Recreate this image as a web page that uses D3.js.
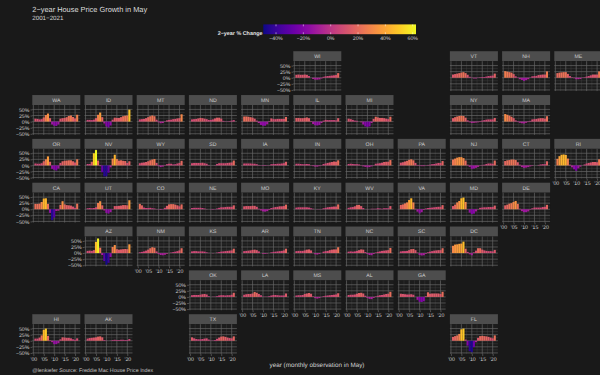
<!DOCTYPE html>
<html><head><meta charset="utf-8">
<script src="https://cdn.jsdelivr.net/npm/d3@7"></script>
<style>html,body{margin:0;padding:0;background:#1a1a1a}svg{display:block;text-rendering:geometricPrecision}text{font-family:"Liberation Sans",Arial,sans-serif}</style>
</head><body><svg id="c" width="600" height="375"></svg>
<script>
const years = d3.range(2001, 2022);
const yTicks = [-50,-25,0,25,50];
const xTicks = [2000,2005,2010,2015,2020];
const legendTicks = [-40,-20,0,20,40,60];
const colorDomain = [-49.3, 62.4];

const WI=[12,13,12,12,13,12,7,0,-5,-8,-8,-7,-3,4,6,7,8,9,10,11,19];
const VT=[13,15,17,19,21,23,19,12,4,-1,-3,-3,-1,2,3,3,5,7,8,9,17];
const NH=[27,25,23,21,15,6,-1,-6,-9,-13,-10,-6,-1,6,7,8,11,12,13,13,26];
const ME=[19,21,22,23,23,16,7,2,-2,-6,-6,-5,-1,2,5,7,10,13,13,13,26];
const WA=[12,11,9,10,17,27,33,14,-12,-17,-18,-12,12,14,15,18,23,25,19,13,28];
const ID=[7,7,6,8,14,28,37,18,-8,-20,-24,-16,8,16,15,15,18,22,24,25,49];
const MT=[9,10,11,14,18,22,25,22,8,-3,-7,-6,-1,5,7,8,10,11,13,14,30];
const ND=[9,10,11,13,15,14,12,10,7,7,9,13,16,16,12,3,-1,-1,2,4,6];
const MN=[21,21,20,18,16,12,4,-6,-14,-17,-17,-11,2,13,10,10,11,11,11,11,19];
const IL=[15,15,14,14,15,17,14,2,-10,-15,-16,-14,-6,4,7,6,6,6,6,5,14];
const MI=[12,10,7,4,3,0,-3,-12,-20,-22,-20,-6,11,20,17,15,15,14,12,10,20];
const NY=[14,18,21,23,24,23,16,5,-3,-6,-5,-4,-3,2,4,6,8,9,9,9,15];
const MA=[31,28,24,20,14,5,-2,-5,-7,-8,-5,-2,3,9,10,11,13,14,14,12,22];
const OR=[8,7,7,9,17,25,37,15,-14,-18,-21,-13,10,17,19,20,21,21,17,12,25];
const NV=[6,6,15,50,63,20,-3,-28,-45,-45,-30,-8,28,44,26,20,21,19,18,10,17];
const WY=[9,11,12,14,17,21,24,26,10,-3,-7,-5,1,5,7,7,4,5,8,10,19];
const SD=[9,10,10,10,10,11,9,7,2,0,0,1,6,9,9,9,9,10,11,12,20];
const IA=[8,8,8,8,7,7,5,2,-1,-2,-2,-1,1,5,6,6,7,7,8,9,15];
const IN=[7,7,6,5,5,6,5,1,-3,-5,-5,-3,1,6,8,10,12,14,16,15,21];
const OH=[6,7,6,5,5,4,1,-4,-6,-8,-7,-4,1,7,8,9,11,14,15,15,22];
const PA=[11,13,16,19,23,25,21,10,2,-2,-3,-3,-1,2,3,5,6,8,10,10,18];
const NJ=[24,28,32,34,34,30,20,3,-6,-14,-13,-10,-6,-1,2,3,6,8,8,7,20];
const CT=[18,21,22,24,24,22,13,3,-7,-10,-9,-7,-4,-2,0,0,2,4,5,5,17];
const RI=[27,38,44,45,43,28,3,-8,-16,-22,-12,-5,0,4,8,10,12,14,14,13,25];
const CA=[22,22,23,30,44,45,22,-15,-45,-34,-7,-6,18,33,20,17,16,15,11,6,23];
const UT=[4,5,4,5,8,26,33,16,-5,-15,-18,-12,1,13,13,14,15,17,17,16,37];
const CO=[22,16,7,5,5,6,4,3,1,-1,-3,-1,6,14,20,21,21,19,16,12,20];
const NE=[5,6,6,6,6,5,3,1,0,-1,-2,-1,3,6,8,8,9,10,10,10,16];
const MO=[12,13,13,13,14,14,10,2,-5,-9,-10,-8,-3,5,7,9,10,12,12,13,19];
const KY=[7,8,8,8,8,8,7,4,2,0,-1,-1,1,4,6,8,9,10,11,11,20];
const WV=[6,8,9,12,17,18,13,5,0,-1,0,2,2,2,4,3,2,4,4,4,13];
const VA=[18,20,24,28,38,45,28,2,-10,-17,-12,-3,3,5,6,7,8,9,10,10,17];
const MD=[13,19,28,34,45,48,30,-1,-14,-20,-18,-9,-1,6,7,8,8,9,9,9,15];
const DE=[16,19,23,25,30,34,22,2,-8,-12,-12,-9,-2,4,7,7,7,7,9,10,18];
const AZ=[9,10,9,12,46,60,22,-8,-33,-48,-40,-16,25,33,16,14,15,16,17,16,36];
const NM=[3,5,7,10,14,20,24,22,7,-4,-8,-9,-7,-3,0,2,4,6,8,11,20];
const KS=[7,8,8,7,7,7,6,3,1,0,-1,0,2,4,6,7,8,9,10,11,18];
const AR=[8,9,10,11,13,14,12,7,0,-3,-3,-2,0,3,5,6,7,8,9,11,18];
const TN=[8,9,9,9,11,14,15,11,1,-5,-6,-4,0,6,8,9,12,14,15,15,24];
const NC=[6,7,6,7,9,12,15,14,4,-4,-8,-9,-4,2,5,7,9,10,11,12,21];
const SC=[7,8,8,9,12,16,17,12,2,-8,-10,-9,-3,3,6,8,10,11,12,12,20];
const DC=[30,35,36,38,39,47,18,5,-5,-9,3,10,20,20,14,11,9,8,8,7,13];
const OK=[7,8,8,8,9,11,12,10,3,0,1,1,3,6,7,7,6,7,7,9,17];
const LA=[9,11,12,12,14,20,17,12,7,1,1,1,3,6,8,8,7,6,6,6,14];
const MS=[6,7,7,8,12,14,16,13,2,-5,-7,-5,-1,3,5,6,7,8,9,10,15];
const AL=[8,9,9,10,13,16,17,14,5,-4,-8,-9,-4,2,5,7,8,10,12,13,21];
const GA=[13,12,11,10,10,11,9,0,-12,-20,-21,-18,3,19,13,14,14,14,14,12,21];
const HI=[9,9,13,22,45,50,20,2,-6,-14,-14,-10,6,14,13,12,12,10,6,4,10];
const AK=[9,11,12,13,14,17,18,14,3,1,0,1,3,4,3,3,4,4,3,3,7];
const TX=[14,10,7,6,6,7,9,10,5,1,1,3,8,13,17,18,16,13,11,10,18];
const FL=[16,19,22,28,47,50,5,-20,-43,-47,-26,-6,12,19,20,19,18,16,13,10,22];

const grid = [
 ["WI",WI,0,5],["VT",VT,0,8],["NH",NH,0,9],["ME",ME,0,10],
 ["WA",WA,1,0],["ID",ID,1,1],["MT",MT,1,2],["ND",ND,1,3],["MN",MN,1,4],["IL",IL,1,5],["MI",MI,1,6],["NY",NY,1,8],["MA",MA,1,9],
 ["OR",OR,2,0],["NV",NV,2,1],["WY",WY,2,2],["SD",SD,2,3],["IA",IA,2,4],["IN",IN,2,5],["OH",OH,2,6],["PA",PA,2,7],["NJ",NJ,2,8],["CT",CT,2,9],["RI",RI,2,10],
 ["CA",CA,3,0],["UT",UT,3,1],["CO",CO,3,2],["NE",NE,3,3],["MO",MO,3,4],["KY",KY,3,5],["WV",WV,3,6],["VA",VA,3,7],["MD",MD,3,8],["DE",DE,3,9],
 ["AZ",AZ,4,1],["NM",NM,4,2],["KS",KS,4,3],["AR",AR,4,4],["TN",TN,4,5],["NC",NC,4,6],["SC",SC,4,7],["DC",DC,4,8],
 ["OK",OK,5,3],["LA",LA,5,4],["MS",MS,5,5],["AL",AL,5,6],["GA",GA,5,7],
 ["HI",HI,6,0],["AK",AK,6,1],["TX",TX,6,3],["FL",FL,6,8]
];
const yAxisStates = ["WI","WA","OR","CA","AZ","OK","HI"];
const xAxisStates = ["NM","LA","MS","AL","GA","DE","RI","HI","AK","TX","FL"];

const bg="#191919", panelBg="#1c1c1c", stripBg="#4d4d4d", gridMajor="#666666", gridMinor="#444444", txt="#cfcfcf";
const svg=d3.select("#c");
svg.append("rect").attr("width",600).attr("height",375).attr("fill",bg);
const color=d3.scaleSequential(d3.interpolatePlasma).domain(colorDomain);

const colX=d3.scaleLinear().domain([0,10]).range([32.3,554.3]);
const rowY=d3.scaleLinear().domain([0,6]).range([51.2,314.2]);
const W=48, SH=10, PH=29.9;
const x=d3.scaleLinear().domain([1999.5,2022.5]).range([0,W]);
const y=d3.scaleLinear().domain([-54.9,68]).range([PH,0]);
const xMinor=d3.range(1997.5,2023,5).filter(v=>v>1999.5&&v<2022.5);
const yMinor=[-37.5,-12.5,12.5,37.5];

function styleAxis(a){
  a.select(".domain").remove();
  a.selectAll(".tick line").attr("stroke","#8a8a8a").attr("stroke-width",.5);
  a.selectAll(".tick text").attr("font-size",5.2).attr("font-family",'"Liberation Sans",Arial,sans-serif').attr("fill",txt);
}

grid.forEach(([name,vals,r,c])=>{
  const g=svg.append("g").attr("transform",`translate(${colX(c)},${rowY(r)})`);
  g.append("rect").attr("width",W).attr("height",SH).attr("fill",stripBg);
  g.append("text").attr("x",W/2).attr("y",SH/2+1.9).attr("text-anchor","middle").attr("font-size",5.2).attr("fill",txt).text(name);
  const p=g.append("g").attr("transform",`translate(0,${SH})`);
  p.append("rect").attr("width",W).attr("height",PH).attr("fill",panelBg);
  p.selectAll("line.mx").data(xMinor).join("line").attr("x1",x).attr("x2",x).attr("y1",0).attr("y2",PH).attr("stroke",gridMinor).attr("stroke-width",.4);
  p.selectAll("line.my").data(yMinor).join("line").attr("y1",y).attr("y2",y).attr("x1",0).attr("x2",W).attr("stroke",gridMinor).attr("stroke-width",.4);
  p.selectAll("line.Mx").data(xTicks).join("line").attr("x1",x).attr("x2",x).attr("y1",0).attr("y2",PH).attr("stroke",gridMajor).attr("stroke-width",.7);
  p.selectAll("line.My").data(yTicks).join("line").attr("y1",y).attr("y2",y).attr("x1",0).attr("x2",W).attr("stroke",gridMajor).attr("stroke-width",.7);
  const bw=x(2001)-x(2000);
  p.selectAll("rect.bar").data(vals).join("rect").attr("class","bar")
    .attr("x",(d,i)=>x(years[i])-bw/2).attr("width",bw)
    .attr("y",d=>Math.min(y(d),y(0))).attr("height",d=>Math.abs(y(d)-y(0)))
    .attr("fill",d=>color(d));
  if(yAxisStates.includes(name)){
    const a=p.append("g").call(d3.axisLeft(y).tickValues(yTicks).tickSize(1.8).tickPadding(1.2).tickFormat(d=>d3.format("d")(d)+"%"));
    styleAxis(a);
  }
  if(xAxisStates.includes(name)){
    const a=p.append("g").attr("transform",`translate(0,${PH})`).call(d3.axisBottom(x).tickValues(xTicks).tickSize(1.8).tickPadding(1).tickFormat(d=>"'"+String(d).slice(2)));
    styleAxis(a);
  }
});

// legend
const defs=svg.append("defs");
const lg=defs.append("linearGradient").attr("id","lg");
d3.range(0,1.001,.05).forEach(t=>lg.append("stop").attr("offset",t).attr("stop-color",d3.interpolatePlasma(t)));
const lx=d3.scaleLinear().domain(colorDomain).range([263.3,416]);
svg.append("rect").attr("x",lx.range()[0]).attr("y",24.4).attr("width",lx.range()[1]-lx.range()[0]).attr("height",9.8).attr("fill","url(#lg)");
svg.selectAll("line.lt").data(legendTicks).join("line").attr("x1",lx).attr("x2",lx).attr("y1",24.4).attr("y2",26.3).attr("stroke","#fff").attr("stroke-width",.5);
svg.selectAll("line.lb").data(legendTicks).join("line").attr("x1",lx).attr("x2",lx).attr("y1",32.3).attr("y2",34.2).attr("stroke","#fff").attr("stroke-width",.5);
svg.selectAll("text.ll").data(legendTicks).join("text").attr("x",lx).attr("y",40.4).attr("text-anchor","middle").attr("font-size",5.2).attr("fill",txt)
  .text(d=>d3.format("d")(d)+"%");
svg.append("text").attr("x",262.5).attr("y",35.2).attr("text-anchor","end").attr("font-size",5.4).attr("font-weight","bold").attr("fill","#e0e0e0").text("2−year % Change");

// titles
svg.append("text").attr("x",32.3).attr("y",11.8).attr("font-size",7.4).attr("fill","#dcdcdc").text("2−year House Price Growth in May");
svg.append("text").attr("x",32.3).attr("y",19.8).attr("font-size",6.2).attr("fill","#d4d4d4").text("2001−2021");
svg.append("text").attr("x",317).attr("y",366.8).attr("text-anchor","middle").attr("font-size",6.3).attr("fill","#d4d4d4").text("year (monthly observation in May)");
svg.append("text").attr("x",32.3).attr("y",372.2).attr("font-size",5.3).attr("fill","#c4c4c4").text("@lenkiefer Source: Freddie Mac House Price Index");
</script></body></html>
